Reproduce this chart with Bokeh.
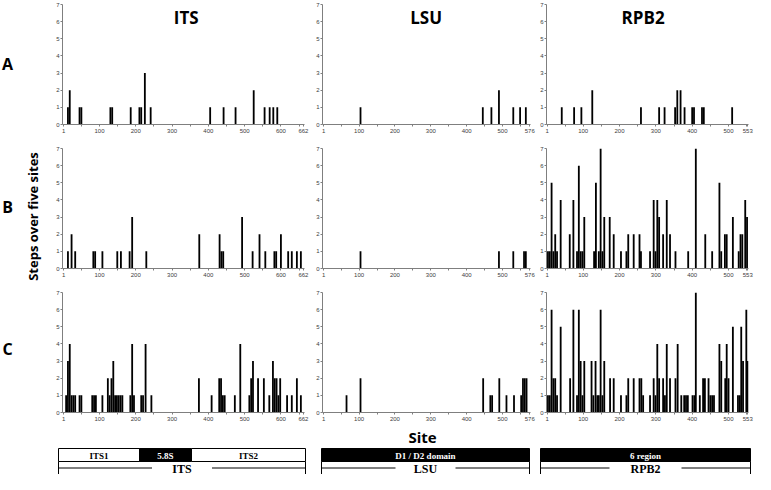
import math
from bokeh.plotting import figure
from bokeh.models import FixedTicker, Label, Range1d
from bokeh.layouts import row, column
from bokeh.core.properties import value
from bokeh.embed import file_html
from bokeh.resources import INLINE

# ---------------- data (window centre site, steps over five sites) ----------------
genes = ["ITS", "LSU", "RPB2"]
gene_len = {"ITS": 662, "LSU": 576, "RPB2": 553}
rows = ["A", "B", "C"]

its_ticks = [1, 100, 200, 300, 400, 500, 600, 662]
lsu_ticks = [1, 100, 200, 300, 400, 500, 576]
rpb2_ticks = [1, 100, 200, 300, 400, 500, 553]
y_ticks = [0, 1, 2, 3, 4, 5, 6, 7]

A_ITS_site = [13, 18, 45, 50, 130, 135, 186, 210, 215, 225, 241, 405, 442, 475, 525, 555, 569, 579, 590]
A_ITS_val = [1, 2, 1, 1, 1, 1, 1, 1, 1, 3, 1, 1, 1, 1, 2, 1, 1, 1, 1]
A_LSU_site = [104, 445, 469, 490, 530, 549, 565]
A_LSU_val = [1, 1, 1, 2, 1, 1, 1]
A_RPB2_site = [41, 75, 95, 125, 259, 309, 324, 353, 359, 368, 379, 400, 405, 427, 432, 510]
A_RPB2_val = [1, 1, 1, 2, 1, 1, 1, 1, 2, 2, 1, 1, 1, 1, 1, 1]

B_ITS_site = [13, 23, 33, 83, 88, 108, 149, 159, 183, 190, 229, 375, 431, 436, 441, 493, 522, 541,
              557, 582, 587, 600, 620, 630, 644, 655]
B_ITS_val = [1, 2, 1, 1, 1, 1, 1, 1, 1, 3, 1, 2, 2, 1, 1, 3, 1, 2, 1, 1, 1, 2, 1, 1, 1, 1]
B_LSU_site = [104, 490, 530, 560, 565]
B_LSU_val = [1, 1, 1, 1, 1]
B_RPB2_site = [3, 8, 13, 18, 23, 28, 38, 63, 73, 83, 88, 93, 98, 103, 130, 135, 143, 148, 153, 158,
               173, 184, 204, 219, 224, 239, 255, 259, 284, 294, 299, 304, 309, 320, 330, 339, 354,
               389, 410, 436, 455, 475, 480, 490, 495, 512, 528, 533, 538, 546, 551]
B_RPB2_val = [1, 1, 5, 1, 2, 1, 4, 2, 4, 1, 6, 1, 1, 3, 1, 5, 1, 7, 1, 3, 3, 2, 1, 1, 2, 2, 2, 1,
              1, 4, 1, 4, 3, 2, 4, 2, 1, 1, 7, 2, 1, 5, 1, 2, 2, 3, 1, 2, 2, 4, 3]

C_ITS_site = [8, 13, 18, 23, 28, 33, 45, 50, 80, 85, 90, 108, 123, 128, 133, 138, 143, 148, 153, 158,
              163, 185, 190, 195, 215, 220, 227, 243, 374, 409, 430, 435, 440, 445, 473, 488, 513,
              518, 523, 537, 553, 568, 578, 583, 588, 593, 598, 617, 630, 644, 655]
C_ITS_val = [1, 3, 4, 1, 1, 1, 1, 1, 1, 1, 1, 1, 2, 1, 2, 3, 1, 1, 1, 1, 1, 1, 4, 1, 1, 1, 4, 1, 2,
             1, 2, 2, 1, 1, 1, 4, 1, 2, 3, 2, 2, 1, 3, 2, 2, 1, 2, 1, 1, 2, 1]
C_LSU_site = [65, 104, 446, 466, 471, 491, 511, 532, 552, 557, 562, 567]
C_LSU_val = [1, 2, 2, 1, 1, 2, 1, 1, 1, 2, 2, 2]
C_RPB2_site = [3, 8, 13, 18, 23, 28, 38, 64, 73, 83, 88, 93, 98, 103, 123, 128, 134, 139, 143, 148,
               153, 158, 174, 184, 204, 219, 224, 239, 255, 260, 265, 284, 294, 299, 304, 309, 320,
               325, 330, 339, 354, 360, 370, 378, 383, 388, 401, 406, 410, 421, 430, 435, 445, 450,
               455, 460, 475, 480, 491, 495, 500, 512, 526, 531, 535, 540, 549, 553]
C_RPB2_val = [1, 1, 6, 2, 2, 1, 5, 2, 6, 1, 6, 3, 1, 3, 3, 1, 3, 1, 1, 6, 1, 3, 2, 2, 1, 1, 2, 2, 2,
              2, 1, 1, 2, 1, 4, 2, 2, 1, 4, 2, 2, 4, 1, 1, 1, 1, 1, 1, 7, 1, 2, 2, 2, 1, 1, 1, 4, 3,
              2, 4, 2, 5, 1, 1, 5, 3, 6, 3]

panel_data = {
    ("A", "ITS"): (A_ITS_site, A_ITS_val), ("A", "LSU"): (A_LSU_site, A_LSU_val),
    ("A", "RPB2"): (A_RPB2_site, A_RPB2_val),
    ("B", "ITS"): (B_ITS_site, B_ITS_val), ("B", "LSU"): (B_LSU_site, B_LSU_val),
    ("B", "RPB2"): (B_RPB2_site, B_RPB2_val),
    ("C", "ITS"): (C_ITS_site, C_ITS_val), ("C", "LSU"): (C_LSU_site, C_LSU_val),
    ("C", "RPB2"): (C_RPB2_site, C_RPB2_val),
}
gene_ticks = {"ITS": its_ticks, "LSU": lsu_ticks, "RPB2": rpb2_ticks}

# ---------------- layout ----------------
WINDOW = 5
x_ranges = {"ITS": (-2, 665), "LSU": (-2, 578), "RPB2": (-1, 555)}
frame_w = {"ITS": 242, "LSU": 208, "RPB2": 202}
border_l = {"ITS": 10, "LSU": 10, "RPB2": 9}
border_r = {"ITS": 8, "LSU": 7, "RPB2": 7}
frame_h = 120
border_t = 4
border_b = {"A": 20, "B": 20, "C": 14}
title_x = {"ITS": 339, "LSU": 287, "RPB2": 265}
STRIP_W = 52

AX = "#7f7f7f"
TICKF = "Liberation Sans"
BOLDF = "Open Sans"


def make_panel(r, g):
    sites, vals = panel_data[(r, g)]
    xr = x_ranges[g]
    w = border_l[g] + frame_w[g] + border_r[g]
    h = border_t + frame_h + border_b[r]
    p = figure(width=w, height=h, x_range=Range1d(*xr), y_range=Range1d(0, 7),
               output_backend="svg", toolbar_location=None, tools="",
               min_border_left=border_l[g], min_border_right=border_r[g],
               min_border_top=border_t, min_border_bottom=border_b[r])
    p.vbar(x=sites, top=vals, bottom=0, width=WINDOW, fill_color="black", line_color=None)
    p.xgrid.visible = False
    p.ygrid.visible = False
    p.outline_line_color = None
    p.background_fill_color = "white"
    p.border_fill_color = "white"
    minor = list(range(50, gene_len[g], 100))
    p.xaxis.ticker = FixedTicker(ticks=gene_ticks[g], minor_ticks=minor)
    p.yaxis.ticker = FixedTicker(ticks=y_ticks)
    for ax in (p.xaxis[0], p.yaxis[0]):
        ax.axis_line_color = AX
        ax.axis_line_width = 1
        ax.major_tick_line_color = AX
        ax.minor_tick_line_color = AX
        ax.major_tick_in = 0
        ax.major_tick_out = 2
        ax.minor_tick_in = 0
        ax.minor_tick_out = 2
        ax.major_label_text_font = TICKF
        ax.major_label_text_font_size = "6px"
        ax.major_label_text_color = "#404040"
        ax.major_label_standoff = 2
    p.yaxis.minor_tick_line_color = None
    p.yaxis.major_label_standoff = 1
    if r == "A":
        p.add_layout(Label(x=title_x[g], y=6.25, text=g, text_align="center",
                           text_baseline="middle", text_font=BOLDF, text_font_style="bold",
                           text_font_size="17px", text_color="black"))
    return p


grid_rows = [row(*[make_panel(r, g) for g in genes], spacing=0) for r in rows]
grid_h = sum(border_t + frame_h + border_b[r] for r in rows)

# ---------------- left strip: row letters and y-axis title ----------------
s = figure(width=STRIP_W, height=grid_h, x_range=Range1d(0, STRIP_W), y_range=Range1d(grid_h, 0),
           output_backend="svg", toolbar_location=None, tools="", min_border=0)
s.axis.visible = False
s.grid.visible = False
s.outline_line_color = None
s.background_fill_color = "white"
s.border_fill_color = "white"
letter_y = [63, 206, 348]
s.text(x=[7] * 3, y=letter_y, text=rows, text_align="center", text_baseline="middle",
       text_font=value(BOLDF), text_font_style="bold", text_font_size="16px", text_color="black")
s.text(x=[32], y=[216], text=["Steps over five sites"], angle=math.pi / 2,
       text_align="center", text_baseline="middle", text_font=value(BOLDF),
       text_font_style="bold", text_font_size="13px", text_color="black")

top_part = row(s, column(*grid_rows, spacing=0), spacing=0)

# ---------------- bottom schematic ----------------
BW = STRIP_W + sum(border_l[g] + frame_w[g] + border_r[g] for g in genes)
BH = 474 - grid_h
q = figure(width=BW, height=BH, x_range=Range1d(0, BW), y_range=Range1d(BH, 0),
           output_backend="svg", toolbar_location=None, tools="", min_border=0)
q.axis.visible = False
q.grid.visible = False
q.outline_line_color = None
q.background_fill_color = "white"
q.border_fill_color = "white"

q.text(x=[422], y=[10], text=["Site"], text_align="center", text_baseline="middle",
       text_font=value(BOLDF), text_font_style="bold", text_font_size="15px", text_color="black")

box_top, box_bot, brk_y = 22, 35, 41.5
seg_left = [58, 139, 191, 321, 540]
seg_right = [139, 191, 305, 529, 750]
seg_fill = ["white", "black", "white", "black", "black"]
seg_text = ["ITS1", "5.8S", "ITS2", "D1 / D2 domain", "6 region"]
seg_text_color = ["black", "white", "black", "white", "white"]
q.quad(left=seg_left, right=seg_right, top=[box_top] * 5, bottom=[box_bot] * 5,
       fill_color=seg_fill, line_color="black", line_width=1)
q.text(x=[(a + b) / 2 for a, b in zip(seg_left, seg_right)], y=[(box_top + box_bot) / 2 + 0.5] * 5,
       text=seg_text, text_color=seg_text_color, text_align="center", text_baseline="middle",
       text_font=value("Liberation Serif"), text_font_style="bold", text_font_size="9px")

reg_left = [58, 321, 540]
reg_right = [305, 529, 750]
reg_name = ["ITS", "LSU", "RPB2"]
reg_gap = [30, 30, 36]
cx = [(a + b) / 2 for a, b in zip(reg_left, reg_right)]
q.segment(x0=reg_left + reg_right, y0=[box_bot] * 6, x1=reg_left + reg_right, y1=[BH] * 6,
          line_color="black", line_width=1)
q.segment(x0=reg_left + [c + gp for c, gp in zip(cx, reg_gap)],
          y0=[brk_y] * 6,
          x1=[c - gp for c, gp in zip(cx, reg_gap)] + reg_right,
          y1=[brk_y] * 6, line_color="black", line_width=1)
q.text(x=cx, y=[brk_y + 0.5] * 3, text=reg_name, text_align="center", text_baseline="middle",
       text_font=value("Liberation Serif"), text_font_style="bold", text_font_size="12px",
       text_color="black")

layout = column(top_part, q, spacing=0)
open("out.html", "w").write(file_html(layout, INLINE))
